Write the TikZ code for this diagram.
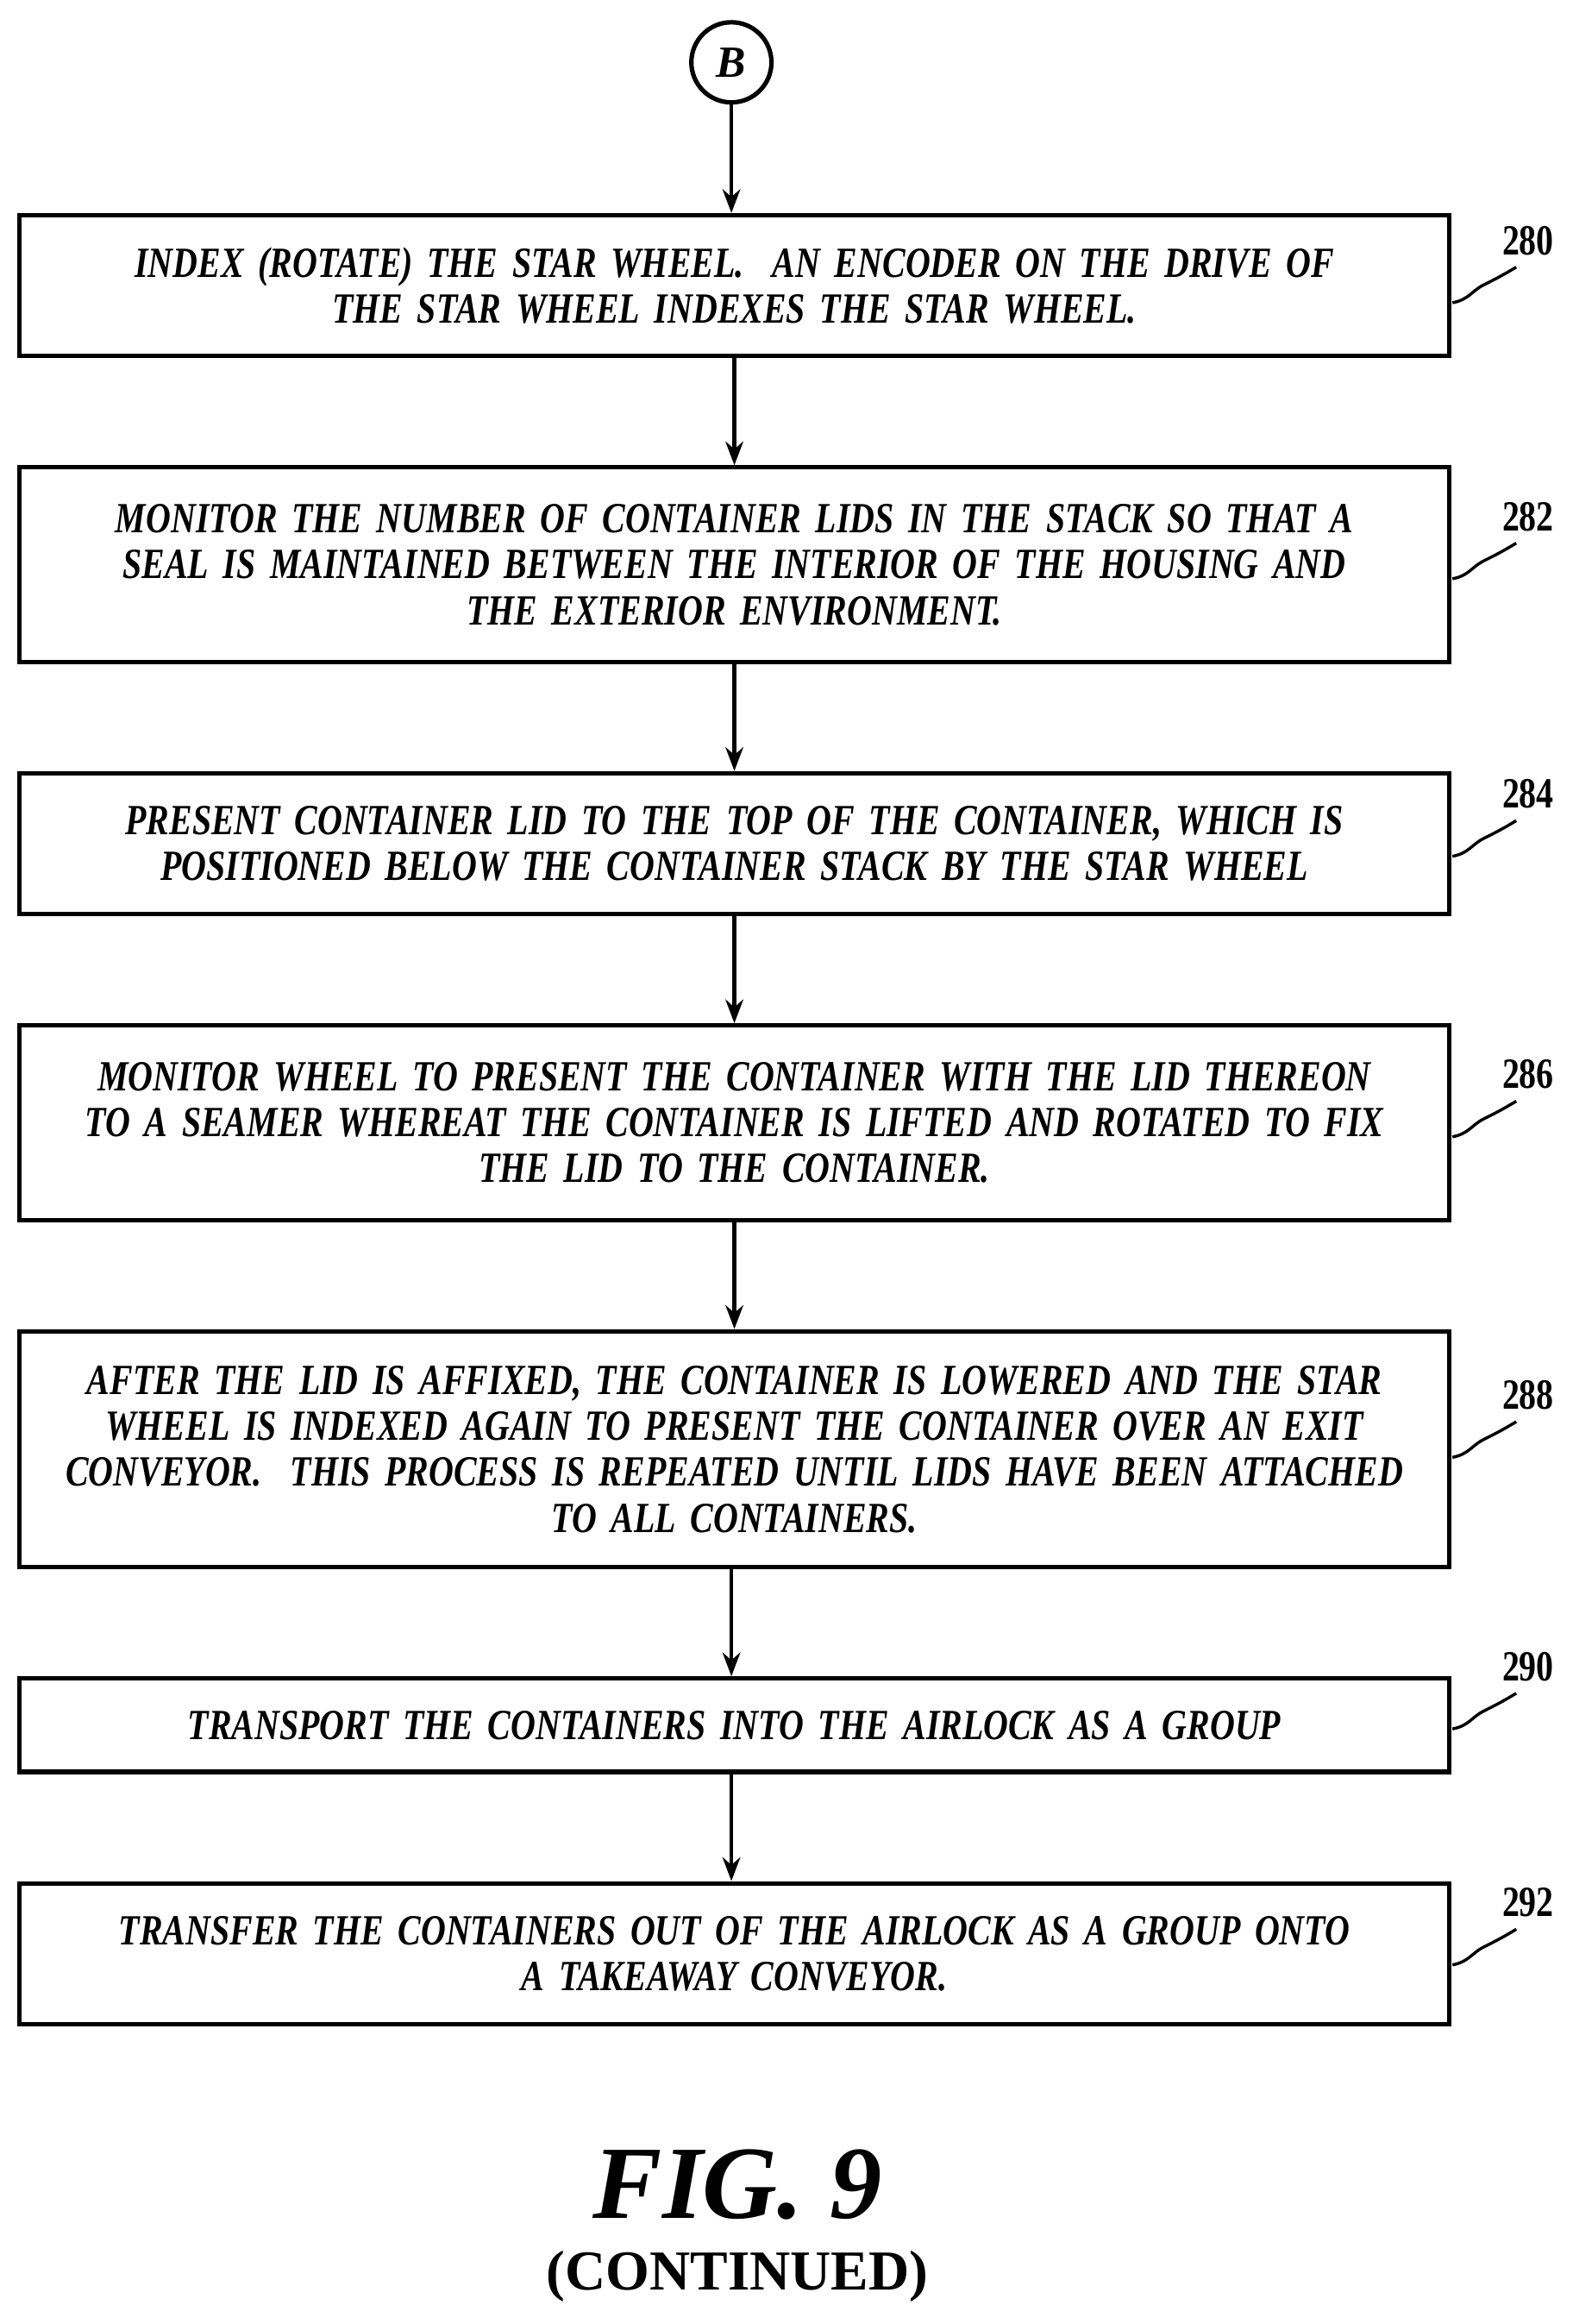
\documentclass[tikz,border=0pt]{standalone}
\usepackage{fontspec}
\setmainfont{Liberation Serif}
\newfontfamily\pf[FakeStretch=0.8,WordSpace=0.6]{Liberation Serif}
\usetikzlibrary{arrows.meta}
\begin{document}
\begin{tikzpicture}[x=1pt,y=-1pt,
  box/.style={draw,line width=3pt,minimum width=964pt,align=center,text width=950pt,font=\pf\bfseries\itshape\fontsize{29}{31}\selectfont,inner sep=0pt},
  arr/.style={line width=2.5pt,-{Stealth[length=16pt,width=12pt]}},
  lbl/.style={font=\pf\bfseries\fontsize{29}{31}\selectfont},
  sq/.style={line width=2pt}]
\useasboundingbox (0,0) rectangle (1060,1566);
\node[draw,circle,line width=3pt,minimum size=54pt,inner sep=0pt,font=\bfseries\itshape\fontsize{30}{32}\selectfont] (B) at (493,42) {B};
\node[box,minimum height=95pt] (n280) at (495,192.5) {INDEX (ROTATE) THE STAR WHEEL.\ \ AN ENCODER ON THE DRIVE OF\\THE STAR WHEEL INDEXES THE STAR WHEEL.};
\node[box,minimum height=131pt] (n282) at (495,380.5) {MONITOR THE NUMBER OF CONTAINER LIDS IN THE STACK SO THAT A\\SEAL IS MAINTAINED BETWEEN THE INTERIOR OF THE HOUSING AND\\THE EXTERIOR ENVIRONMENT.};
\node[box,minimum height=95pt] (n284) at (495,568.5) {PRESENT CONTAINER LID TO THE TOP OF THE CONTAINER, WHICH IS\\POSITIONED BELOW THE CONTAINER STACK BY THE STAR WHEEL};
\node[box,minimum height=131pt] (n286) at (495,756.5) {MONITOR WHEEL TO PRESENT THE CONTAINER WITH THE LID THEREON\\TO A SEAMER WHEREAT THE CONTAINER IS LIFTED AND ROTATED TO FIX\\THE LID TO THE CONTAINER.};
\node[box,minimum height=159pt] (n288) at (495,976.5) {AFTER THE LID IS AFFIXED, THE CONTAINER IS LOWERED AND THE STAR\\WHEEL IS INDEXED AGAIN TO PRESENT THE CONTAINER OVER AN EXIT\\CONVEYOR.\ \ THIS PROCESS IS REPEATED UNTIL LIDS HAVE BEEN ATTACHED\\TO ALL CONTAINERS.};
\node[box,minimum height=63pt] (n290) at (495,1162.5) {TRANSPORT THE CONTAINERS INTO THE AIRLOCK AS A GROUP};
\node[box,minimum height=95pt] (n292) at (495,1316.5) {TRANSFER THE CONTAINERS OUT OF THE AIRLOCK AS A GROUP ONTO\\A TAKEAWAY CONVEYOR.};
\draw[arr] (B) -- (B|-n280.north);
\draw[arr] (n280) -- (n282);
\draw[arr] (n282) -- (n284);
\draw[arr] (n284) -- (n286);
\draw[arr] (n286) -- (n288);
\draw[arr] (n288.south-|B) -- (n290.north-|B);
\draw[arr] (n290.south-|B) -- (n292.north-|B);
\foreach \n/\y in {280/162,282/348,284/535,286/724,288/940,290/1123,292/1282}{
  \node[lbl] (l\n) at (1030,\y) {\n};
  \draw[sq] (979,\y+42) .. controls (990,\y+40) and (992,\y+34) .. (1000,\y+30) .. controls (1008,\y+26) and (1012,\y+24) .. (1022,\y+18);
}
\node[font=\bfseries\itshape\fontsize{70}{74}\selectfont] (fig) at (497,1472) {FIG. 9};
\node[font=\bfseries\fontsize{38}{42}\selectfont] (cont) at (497,1534) {(CONTINUED)};
\end{tikzpicture}
\end{document}
